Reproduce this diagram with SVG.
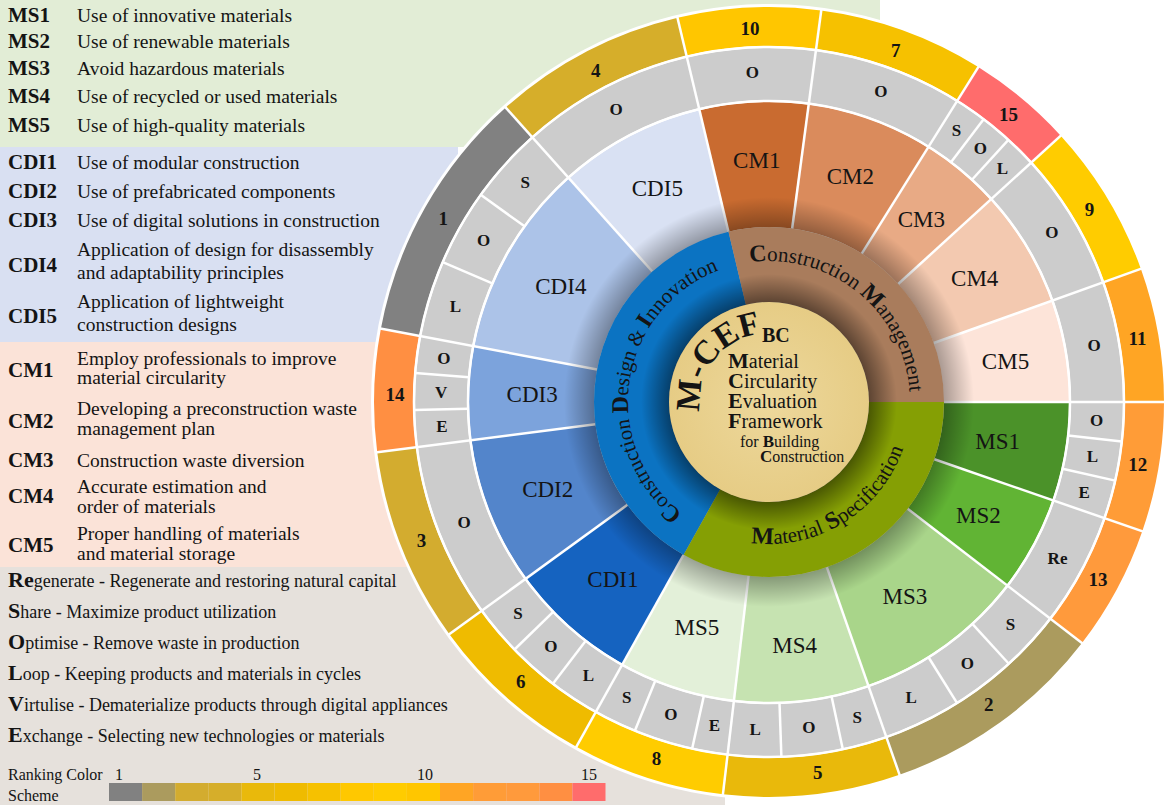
<svg xmlns="http://www.w3.org/2000/svg" width="1164" height="805" viewBox="0 0 1164 805">
<defs>
<style>
text{font-family:"Liberation Serif","Times New Roman",serif;fill:#141414}
.k{font-weight:bold;font-size:21px}
.d{font-size:19.5px}
.b{font-size:18px}
.bi{font-weight:bold;font-size:22px}
.lg{font-size:16px}
.sec{font-size:23px;text-anchor:middle;dominant-baseline:central}
.gl{font-weight:bold;font-size:17px;text-anchor:middle;dominant-baseline:central}
.rk{font-weight:bold;font-size:19px;text-anchor:middle;dominant-baseline:central}
.arc{font-size:21px}
.cap{font-weight:bold;font-size:24px}
.ct{font-size:20px}
.cs{font-size:16px}
.mc{font-weight:bold;font-size:34px;text-anchor:middle}
.sg{fill:none}
.sep line{stroke:#fff;stroke-width:2.5}
</style>
<radialGradient id="shOut" cx="0" cy="0" r="205" gradientUnits="userSpaceOnUse">
<stop offset="0.85" stop-color="#000" stop-opacity="0.33"/>
<stop offset="1" stop-color="#000" stop-opacity="0"/>
</radialGradient>
<radialGradient id="shIn" cx="0" cy="0" r="128" gradientUnits="userSpaceOnUse">
<stop offset="0.78" stop-color="#000" stop-opacity="0.45"/>
<stop offset="1" stop-color="#000" stop-opacity="0"/>
</radialGradient>
<radialGradient id="core" cx="0" cy="0" r="100" gradientUnits="userSpaceOnUse">
<stop offset="0" stop-color="#edd89c"/>
<stop offset="1" stop-color="#e6cc85"/>
</radialGradient>
<path id="aCM" d="M -141 0 A 141 141 0 0 1 141 0" fill="none"/>
<path id="aCDI" d="M 0 141 A 141 141 0 0 1 0 -141" fill="none"/>
<path id="aMS" d="M -142 0 A 142 142 0 0 0 142 0" fill="none"/>
</defs>

<g id="panels">
<rect x="0" y="0" width="1164" height="805" fill="#fff"/>
<rect x="0" y="0" width="880" height="147" fill="#e2edd6"/>
<rect x="0" y="147" width="458" height="195" fill="#d9e0f2"/>
<rect x="0" y="342" width="458" height="225" fill="#fbe3d8"/>
<rect x="0" y="567" width="725" height="238" fill="#e6e1dc"/>
</g>

<g id="list-ms">
<text class="k" x="8" y="22">MS1</text><text class="d" x="77" y="22">Use of innovative materials</text>
<text class="k" x="8" y="48">MS2</text><text class="d" x="77" y="48">Use of renewable materials</text>
<text class="k" x="8" y="75">MS3</text><text class="d" x="77" y="75">Avoid hazardous materials</text>
<text class="k" x="8" y="103">MS4</text><text class="d" x="77" y="103">Use of recycled or used materials</text>
<text class="k" x="8" y="132">MS5</text><text class="d" x="77" y="132">Use of high-quality materials</text>
</g>
<g id="list-cdi">
<text class="k" x="8" y="169">CDI1</text><text class="d" x="77" y="169">Use of modular construction</text>
<text class="k" x="8" y="198">CDI2</text><text class="d" x="77" y="198">Use of prefabricated components</text>
<text class="k" x="8" y="227">CDI3</text><text class="d" x="77" y="227">Use of digital solutions in construction</text>
<text class="k" x="8" y="272">CDI4</text><text class="d" x="77" y="256">Application of design for disassembly</text><text class="d" x="77" y="279">and adaptability principles</text>
<text class="k" x="8" y="323">CDI5</text><text class="d" x="77" y="308">Application of lightweight</text><text class="d" x="77" y="331">construction designs</text>
</g>
<g id="list-cm">
<text class="k" x="8" y="377">CM1</text><text class="d" x="77" y="365">Employ professionals to improve</text><text class="d" x="77" y="384">material circularity</text>
<text class="k" x="8" y="428">CM2</text><text class="d" x="77" y="415">Developing a preconstruction waste</text><text class="d" x="77" y="435">management plan</text>
<text class="k" x="8" y="467">CM3</text><text class="d" x="77" y="467">Construction waste diversion</text>
<text class="k" x="8" y="503">CM4</text><text class="d" x="77" y="493">Accurate estimation and</text><text class="d" x="77" y="513">order of materials</text>
<text class="k" x="8" y="552">CM5</text><text class="d" x="77" y="540">Proper handling of materials</text><text class="d" x="77" y="560">and material storage</text>
</g>
<g id="list-re">
<text class="b" x="8" y="587"><tspan class="bi">Re</tspan>generate - Regenerate and restoring natural capital</text>
<text class="b" x="8" y="618"><tspan class="bi">S</tspan>hare - Maximize product utilization</text>
<text class="b" x="8" y="649"><tspan class="bi">O</tspan>ptimise - Remove waste in production</text>
<text class="b" x="8" y="680"><tspan class="bi">L</tspan>oop - Keeping products and materials in cycles</text>
<text class="b" x="8" y="711"><tspan class="bi">V</tspan>irtulise - Dematerialize products through digital appliances</text>
<text class="b" x="8" y="742"><tspan class="bi">E</tspan>xchange - Selecting new technologies or materials</text>
</g>
<g id="scale">
<text class="lg" x="8" y="780">Ranking Color</text>
<text class="lg" x="8" y="801">Scheme</text>
<text class="lg" x="119" y="780" text-anchor="middle">1</text>
<text class="lg" x="257" y="780" text-anchor="middle">5</text>
<text class="lg" x="425" y="780" text-anchor="middle">10</text>
<text class="lg" x="589" y="780" text-anchor="middle">15</text>
<rect x="109" y="783" width="33.1" height="18" fill="#818181"/>
<rect x="142.1" y="783" width="33.1" height="18" fill="#ab9b5e"/>
<rect x="175.2" y="783" width="33.1" height="18" fill="#d3ac2f"/>
<rect x="208.3" y="783" width="33.1" height="18" fill="#d6ae2a"/>
<rect x="241.4" y="783" width="33.1" height="18" fill="#e9b90b"/>
<rect x="274.5" y="783" width="33.1" height="18" fill="#efbb00"/>
<rect x="307.6" y="783" width="33.1" height="18" fill="#f6c100"/>
<rect x="340.7" y="783" width="33.1" height="18" fill="#ffc800"/>
<rect x="373.8" y="783" width="33.1" height="18" fill="#ffcc00"/>
<rect x="406.9" y="783" width="33.1" height="18" fill="#ffc600"/>
<rect x="440" y="783" width="33.1" height="18" fill="#ffa524"/>
<rect x="473.1" y="783" width="33.1" height="18" fill="#ff9c37"/>
<rect x="506.2" y="783" width="33.1" height="18" fill="#ff9a3c"/>
<rect x="539.3" y="783" width="33.1" height="18" fill="#ff8f42"/>
<rect x="572.4" y="783" width="33.1" height="18" fill="#ff6c6c"/>
</g>

<g id="wheel" transform="translate(769,402)">
<circle r="398" fill="#fff"/>
<g id="sectors" class="sg" stroke-width="125">
<circle class="sg" r="237.5" pathLength="360" stroke="#c96b30" stroke-dasharray="21 360" stroke-dashoffset="-256.6"/>
<circle class="sg" r="237.5" pathLength="360" stroke="#da8b5c" stroke-dasharray="24.4 360" stroke-dashoffset="-277.6"/>
<circle class="sg" r="237.5" pathLength="360" stroke="#e8aa85" stroke-dasharray="15.6 360" stroke-dashoffset="-302"/>
<circle class="sg" r="237.5" pathLength="360" stroke="#f3c9b0" stroke-dasharray="22.7 360" stroke-dashoffset="-317.6"/>
<circle class="sg" r="237.5" pathLength="360" stroke="#fde4d9" stroke-dasharray="19.7 360" stroke-dashoffset="-340.3"/>
<circle class="sg" r="237.5" pathLength="360" stroke="#4b9229" stroke-dasharray="19.1 360" stroke-dashoffset="0"/>
<circle class="sg" r="237.5" pathLength="360" stroke="#61b434" stroke-dasharray="18.5 360" stroke-dashoffset="-19.1"/>
<circle class="sg" r="237.5" pathLength="360" stroke="#a9d58a" stroke-dasharray="33.1 360" stroke-dashoffset="-37.6"/>
<circle class="sg" r="237.5" pathLength="360" stroke="#c6e3b1" stroke-dasharray="26 360" stroke-dashoffset="-70.7"/>
<circle class="sg" r="237.5" pathLength="360" stroke="#e3f0d9" stroke-dasharray="22.5 360" stroke-dashoffset="-96.7"/>
<circle class="sg" r="237.5" pathLength="360" stroke="#1563c0" stroke-dasharray="24.8 360" stroke-dashoffset="-119.2"/>
<circle class="sg" r="237.5" pathLength="360" stroke="#5385cb" stroke-dasharray="28.7 360" stroke-dashoffset="-144"/>
<circle class="sg" r="237.5" pathLength="360" stroke="#7ca3dc" stroke-dasharray="18 360" stroke-dashoffset="-172.7"/>
<circle class="sg" r="237.5" pathLength="360" stroke="#acc3e8" stroke-dasharray="37.5 360" stroke-dashoffset="-190.7"/>
<circle class="sg" r="237.5" pathLength="360" stroke="#d9e1f3" stroke-dasharray="28.4 360" stroke-dashoffset="-228.2"/>
</g>
<circle id="rstrategy" r="328" fill="none" stroke="#cccccc" stroke-width="52"/>
<g id="ranks" class="sg" stroke-width="39">
<circle class="sg" r="375.5" pathLength="360" stroke="#ffc600" stroke-dasharray="21 360" stroke-dashoffset="-256.6"/>
<circle class="sg" r="375.5" pathLength="360" stroke="#f6c100" stroke-dasharray="24.4 360" stroke-dashoffset="-277.6"/>
<circle class="sg" r="375.5" pathLength="360" stroke="#ff6c6c" stroke-dasharray="15.6 360" stroke-dashoffset="-302"/>
<circle class="sg" r="375.5" pathLength="360" stroke="#ffcc00" stroke-dasharray="22.7 360" stroke-dashoffset="-317.6"/>
<circle class="sg" r="375.5" pathLength="360" stroke="#ffa524" stroke-dasharray="19.7 360" stroke-dashoffset="-340.3"/>
<circle class="sg" r="375.5" pathLength="360" stroke="#ff9c37" stroke-dasharray="19.1 360" stroke-dashoffset="0"/>
<circle class="sg" r="375.5" pathLength="360" stroke="#ff9a3c" stroke-dasharray="18.5 360" stroke-dashoffset="-19.1"/>
<circle class="sg" r="375.5" pathLength="360" stroke="#ab9b5e" stroke-dasharray="33.1 360" stroke-dashoffset="-37.6"/>
<circle class="sg" r="375.5" pathLength="360" stroke="#e9b90b" stroke-dasharray="26 360" stroke-dashoffset="-70.7"/>
<circle class="sg" r="375.5" pathLength="360" stroke="#ffcc00" stroke-dasharray="22.5 360" stroke-dashoffset="-96.7"/>
<circle class="sg" r="375.5" pathLength="360" stroke="#efbb00" stroke-dasharray="24.8 360" stroke-dashoffset="-119.2"/>
<circle class="sg" r="375.5" pathLength="360" stroke="#d3ac2f" stroke-dasharray="28.7 360" stroke-dashoffset="-144"/>
<circle class="sg" r="375.5" pathLength="360" stroke="#ff8f42" stroke-dasharray="18 360" stroke-dashoffset="-172.7"/>
<circle class="sg" r="375.5" pathLength="360" stroke="#818181" stroke-dasharray="37.5 360" stroke-dashoffset="-190.7"/>
<circle class="sg" r="375.5" pathLength="360" stroke="#d6ae2a" stroke-dasharray="28.4 360" stroke-dashoffset="-228.2"/>
</g>
<g id="separators" class="sep">
<line x1="175" x2="397" transform="rotate(0)"/>
<line x1="175" x2="397" transform="rotate(19.1)"/>
<line x1="175" x2="397" transform="rotate(37.6)"/>
<line x1="175" x2="397" transform="rotate(70.7)"/>
<line x1="175" x2="397" transform="rotate(96.7)"/>
<line x1="175" x2="397" transform="rotate(119.2)"/>
<line x1="175" x2="397" transform="rotate(144)"/>
<line x1="175" x2="397" transform="rotate(172.7)"/>
<line x1="175" x2="397" transform="rotate(190.7)"/>
<line x1="175" x2="397" transform="rotate(228.2)"/>
<line x1="175" x2="397" transform="rotate(256.6)"/>
<line x1="175" x2="397" transform="rotate(277.6)"/>
<line x1="175" x2="397" transform="rotate(302)"/>
<line x1="175" x2="397" transform="rotate(317.6)"/>
<line x1="175" x2="397" transform="rotate(340.3)"/>
<line x1="301" x2="355" transform="rotate(307.2)"/>
<line x1="301" x2="355" transform="rotate(312.4)"/>
<line x1="301" x2="355" transform="rotate(6.4)"/>
<line x1="301" x2="355" transform="rotate(12.8)"/>
<line x1="301" x2="355" transform="rotate(47.5)"/>
<line x1="301" x2="355" transform="rotate(58)"/>
<line x1="301" x2="355" transform="rotate(78)"/>
<line x1="301" x2="355" transform="rotate(88)"/>
<line x1="301" x2="355" transform="rotate(102.5)"/>
<line x1="301" x2="355" transform="rotate(112.2)"/>
<line x1="301" x2="355" transform="rotate(127.5)"/>
<line x1="301" x2="355" transform="rotate(135.8)"/>
<line x1="301" x2="355" transform="rotate(178.7)"/>
<line x1="301" x2="355" transform="rotate(184.7)"/>
<line x1="301" x2="355" transform="rotate(203.2)"/>
<line x1="301" x2="355" transform="rotate(215.7)"/>
<circle r="301" fill="none" stroke="#fff" stroke-width="2.5"/>
<circle r="355" fill="none" stroke="#fff" stroke-width="2.5"/>
</g>
<circle r="205" fill="url(#shOut)"/>
<g id="hub" stroke-width="75">
<circle class="sg" r="137.5" pathLength="360" stroke="#0b73c2" stroke-dasharray="137.4 360" stroke-dashoffset="-119.2"/>
<circle class="sg" r="137.5" pathLength="360" stroke="#a97c5c" stroke-dasharray="103.4 360" stroke-dashoffset="-256.6"/>
<circle class="sg" r="137.5" pathLength="360" stroke="#859f04" stroke-dasharray="119.2 360" stroke-dashoffset="0"/>
</g>
<circle r="128" fill="url(#shIn)"/>
<circle id="core-disk" r="100" fill="url(#core)"/>

<g id="hub-text" class="arc">
<text><textPath href="#aCM" startOffset="202"><tspan class="cap">C</tspan>onstruction</textPath></text>
<text><textPath href="#aCM" startOffset="319"><tspan class="cap">M</tspan>anagement</textPath></text>
<text><textPath href="#aCDI" startOffset="93"><tspan class="cap">C</tspan>onstruction</textPath></text>
<text><textPath href="#aCDI" startOffset="210"><tspan class="cap">D</tspan>esign &amp;</textPath></text>
<text><textPath href="#aCDI" startOffset="298"><tspan class="cap">I</tspan>nnovation</textPath></text>
<text><textPath href="#aMS" startOffset="205"><tspan class="cap">M</tspan>aterial</textPath></text>
<text><textPath href="#aMS" startOffset="286"><tspan class="cap">S</tspan>pecification</textPath></text>
</g>
<g id="core-text">
<text class="mc" transform="rotate(185) translate(69) rotate(90)">M</text>
<text class="mc" transform="rotate(203) translate(69) rotate(90)">-</text>
<text class="mc" transform="rotate(217.9) translate(69) rotate(90)">C</text>
<text class="mc" transform="rotate(237.4) translate(69) rotate(90)">E</text>
<text class="mc" transform="rotate(255.4) translate(69) rotate(90)">F</text>
<text x="-7" y="-60" font-weight="bold" font-size="20">BC</text>
<text class="ct" x="-41" y="-34"><tspan font-weight="bold" font-size="22">M</tspan>aterial</text>
<text class="ct" x="-41" y="-14"><tspan font-weight="bold" font-size="22">C</tspan>ircularity</text>
<text class="ct" x="-41" y="6"><tspan font-weight="bold" font-size="22">E</tspan>valuation</text>
<text class="ct" x="-41" y="26"><tspan font-weight="bold" font-size="22">F</tspan>ramework</text>
<text class="cs" x="-29" y="45">for <tspan font-weight="bold" font-size="17">B</tspan>uilding</text>
<text class="cs" x="-9" y="60"><tspan font-weight="bold" font-size="17">C</tspan>onstruction</text>
</g>

<g id="sector-labels">
<text class="sec" transform="rotate(267.1) translate(242) rotate(-267.1)">CM1</text>
<text class="sec" transform="rotate(289.8) translate(240) rotate(-289.8)">CM2</text>
<text class="sec" transform="rotate(309.8) translate(238) rotate(-309.8)">CM3</text>
<text class="sec" transform="rotate(329) translate(240) rotate(-329)">CM4</text>
<text class="sec" transform="rotate(350.2) translate(240) rotate(-350.2)">CM5</text>
<text class="sec" transform="rotate(9.8) translate(232) rotate(-9.8)">MS1</text>
<text class="sec" transform="rotate(28.4) translate(238) rotate(-28.4)">MS2</text>
<text class="sec" transform="rotate(55) translate(237) rotate(-55)">MS3</text>
<text class="sec" transform="rotate(84) translate(245) rotate(-84)">MS4</text>
<text class="sec" transform="rotate(107.7) translate(237) rotate(-107.7)">MS5</text>
<text class="sec" transform="rotate(131.4) translate(236) rotate(-131.4)">CDI1</text>
<text class="sec" transform="rotate(158.4) translate(238) rotate(-158.4)">CDI2</text>
<text class="sec" transform="rotate(181.7) translate(237) rotate(-181.7)">CDI3</text>
<text class="sec" transform="rotate(209) translate(238) rotate(-209)">CDI4</text>
<text class="sec" transform="rotate(242.4) translate(241) rotate(-242.4)">CDI5</text>
</g>

<g id="strategy-labels">
<text class="gl" transform="rotate(267.1) translate(330) rotate(-267.1)">O</text>
<text class="gl" transform="rotate(289.8) translate(330) rotate(-289.8)">O</text>
<text class="gl" transform="rotate(304.6) translate(330) rotate(-304.6)">S</text>
<text class="gl" transform="rotate(309.8) translate(330) rotate(-309.8)">O</text>
<text class="gl" transform="rotate(315) translate(330) rotate(-315)">L</text>
<text class="gl" transform="rotate(329) translate(330) rotate(-329)">O</text>
<text class="gl" transform="rotate(350.2) translate(330) rotate(-350.2)">O</text>
<text class="gl" transform="rotate(3.2) translate(328) rotate(-3.2)">O</text>
<text class="gl" transform="rotate(9.6) translate(328) rotate(-9.6)">L</text>
<text class="gl" transform="rotate(16) translate(328) rotate(-16)">E</text>
<text class="gl" transform="rotate(28.4) translate(328) rotate(-28.4)">Re</text>
<text class="gl" transform="rotate(42.6) translate(328) rotate(-42.6)">S</text>
<text class="gl" transform="rotate(52.8) translate(328) rotate(-52.8)">O</text>
<text class="gl" transform="rotate(64.3) translate(328) rotate(-64.3)">L</text>
<text class="gl" transform="rotate(74.4) translate(328) rotate(-74.4)">S</text>
<text class="gl" transform="rotate(83) translate(328) rotate(-83)">O</text>
<text class="gl" transform="rotate(92.4) translate(328) rotate(-92.4)">L</text>
<text class="gl" transform="rotate(99.6) translate(328) rotate(-99.6)">E</text>
<text class="gl" transform="rotate(107.4) translate(328) rotate(-107.4)">O</text>
<text class="gl" transform="rotate(115.7) translate(328) rotate(-115.7)">S</text>
<text class="gl" transform="rotate(123.4) translate(328) rotate(-123.4)">L</text>
<text class="gl" transform="rotate(131.7) translate(328) rotate(-131.7)">O</text>
<text class="gl" transform="rotate(139.9) translate(328) rotate(-139.9)">S</text>
<text class="gl" transform="rotate(158.4) translate(328) rotate(-158.4)">O</text>
<text class="gl" transform="rotate(175.7) translate(328) rotate(-175.7)">E</text>
<text class="gl" transform="rotate(181.7) translate(328) rotate(-181.7)">V</text>
<text class="gl" transform="rotate(187.7) translate(328) rotate(-187.7)">O</text>
<text class="gl" transform="rotate(197) translate(328) rotate(-197)">L</text>
<text class="gl" transform="rotate(209.5) translate(328) rotate(-209.5)">O</text>
<text class="gl" transform="rotate(222) translate(328) rotate(-222)">S</text>
<text class="gl" transform="rotate(242.4) translate(330) rotate(-242.4)">O</text>
</g>

<g id="rank-labels">
<text class="rk" transform="rotate(267.1) translate(374) rotate(-267.1)">10</text>
<text class="rk" transform="rotate(289.8) translate(374) rotate(-289.8)">7</text>
<text class="rk" transform="rotate(309.8) translate(374) rotate(-309.8)">15</text>
<text class="rk" transform="rotate(329) translate(374) rotate(-329)">9</text>
<text class="rk" transform="rotate(350.2) translate(374) rotate(-350.2)">11</text>
<text class="rk" transform="rotate(9.6) translate(374) rotate(-9.6)">12</text>
<text class="rk" transform="rotate(28.4) translate(374) rotate(-28.4)">13</text>
<text class="rk" transform="rotate(54) translate(374) rotate(-54)">2</text>
<text class="rk" transform="rotate(82.5) translate(374) rotate(-82.5)">5</text>
<text class="rk" transform="rotate(107.5) translate(374) rotate(-107.5)">8</text>
<text class="rk" transform="rotate(131.6) translate(374) rotate(-131.6)">6</text>
<text class="rk" transform="rotate(158.3) translate(374) rotate(-158.3)">3</text>
<text class="rk" transform="rotate(181.2) translate(374) rotate(-181.2)">14</text>
<text class="rk" transform="rotate(209.4) translate(374) rotate(-209.4)">1</text>
<text class="rk" transform="rotate(242.4) translate(374) rotate(-242.4)">4</text>
</g>
</g>
</svg>
